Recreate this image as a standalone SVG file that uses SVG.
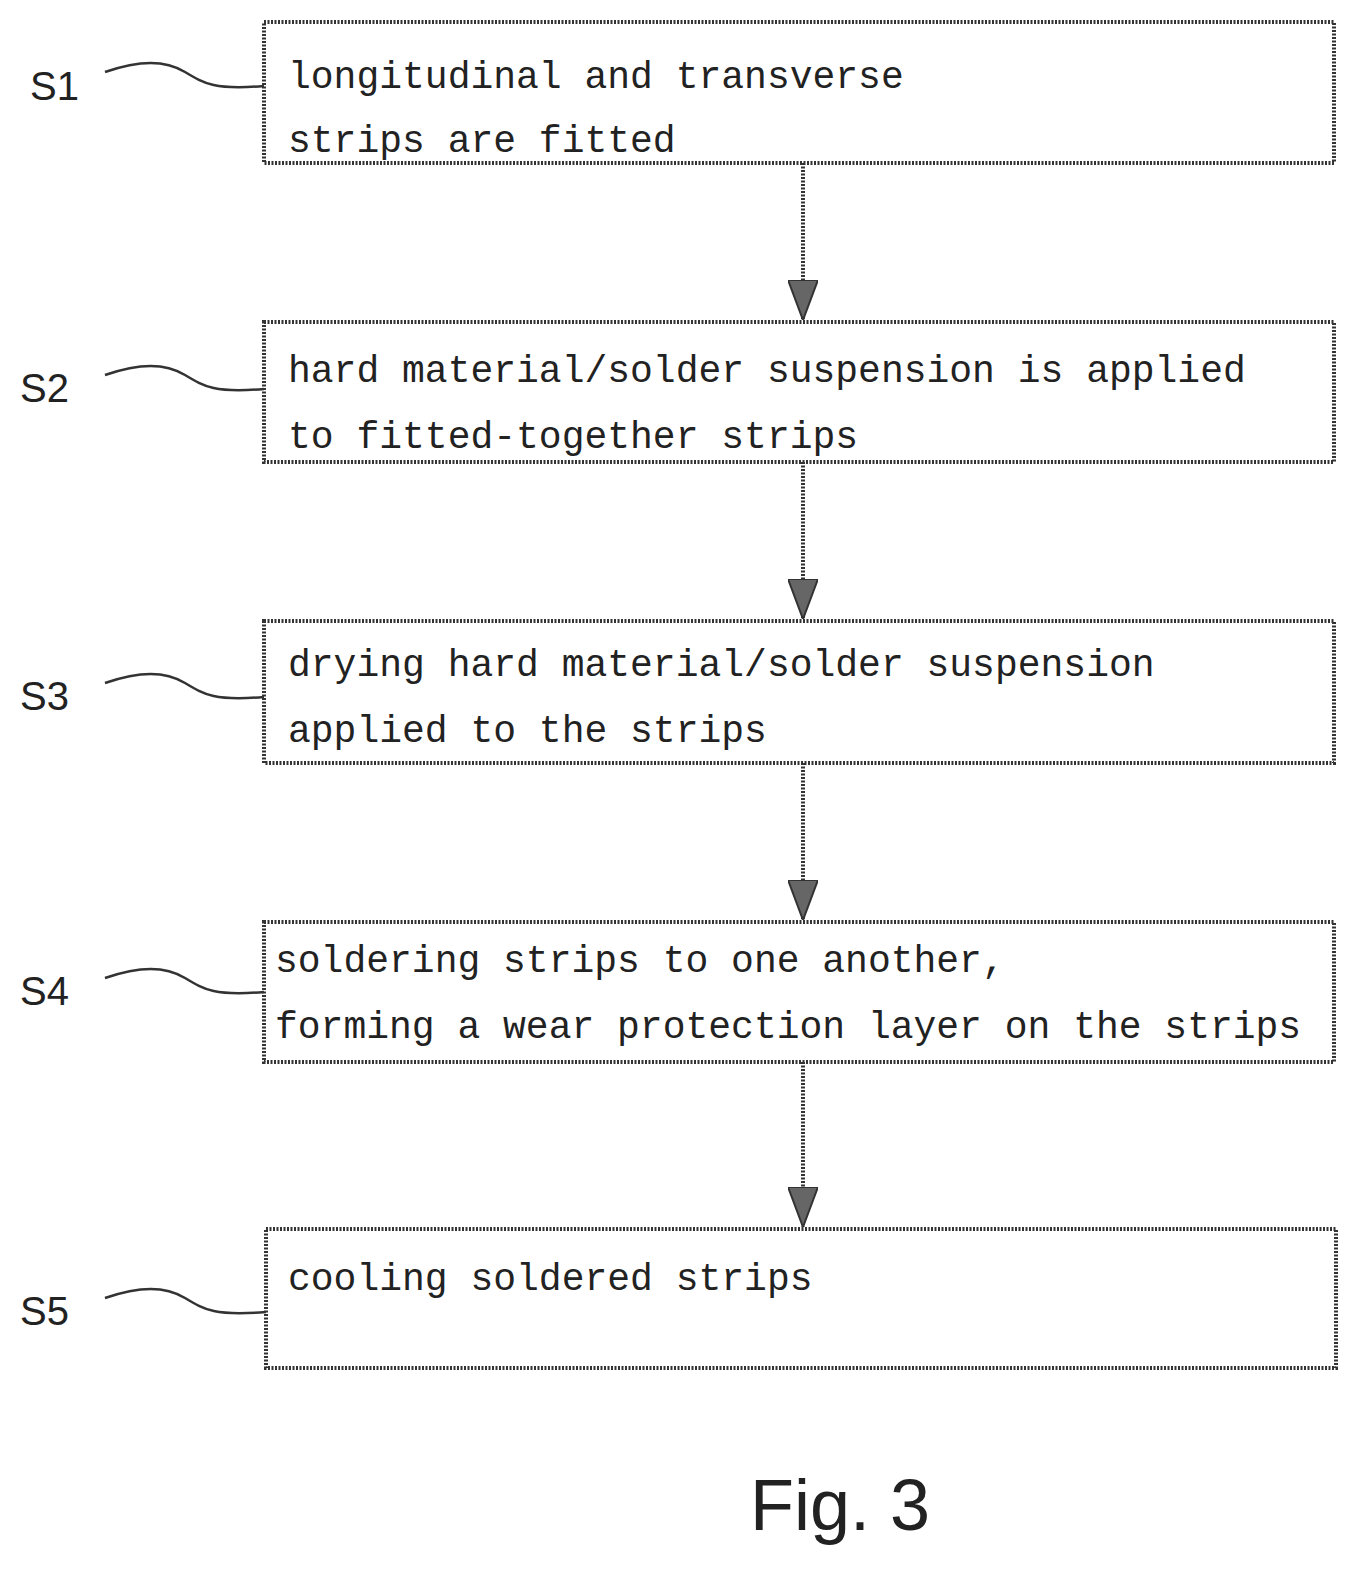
<svg xmlns="http://www.w3.org/2000/svg" width="1361" height="1572" viewBox="0 0 1361 1572">
<style>
.b{fill:#fff;stroke:#333;stroke-width:4;stroke-dasharray:2 1.5}
.t{font-family:"Liberation Mono",monospace;font-size:38px;fill:#222}
.l{font-family:"Liberation Sans",sans-serif;font-size:40px;fill:#222}
.c{fill:none;stroke:#333;stroke-width:4;stroke-dasharray:2 1.5}
.s{fill:none;stroke:#333;stroke-width:2.5}
</style>
<defs>
<marker id="ah" viewBox="0 0 40 30" refX="40" refY="15" markerWidth="40" markerHeight="30" markerUnits="userSpaceOnUse" orient="auto"><path d="M0,0 L40,15 L0,30 Z" fill="#666" stroke="#333" stroke-width="2"/></marker></defs>
<g id="connectors">
<line class="c" x1="803" y1="163" x2="803" y2="320" marker-end="url(#ah)"/>
<line class="c" x1="803" y1="462" x2="803" y2="619" marker-end="url(#ah)"/>
<line class="c" x1="803" y1="763" x2="803" y2="920" marker-end="url(#ah)"/>
<line class="c" x1="803" y1="1062" x2="803" y2="1227" marker-end="url(#ah)"/>
</g>
<g id="S1"><rect class="b" x="264" y="22" width="1070" height="141"/>
<text class="t" x="288" y="88">longitudinal and transverse</text><text class="t" x="288" y="152">strips are fitted</text>
<text class="l" x="30" y="100">S1</text><path class="s" d="M105,72 C140,60 165,60 185,72 S215,90 264,86"/></g>
<g id="S2"><rect class="b" x="264" y="322" width="1070" height="140"/>
<text class="t" x="288" y="382">hard material/solder suspension is applied</text><text class="t" x="288" y="448">to fitted-together strips</text>
<text class="l" x="20" y="402">S2</text><path class="s" d="M105,375 C140,363 165,363 185,375 S215,393 264,389"/></g>
<g id="S3"><rect class="b" x="264" y="621" width="1070" height="142"/>
<text class="t" x="288" y="676">drying hard material/solder suspension</text><text class="t" x="288" y="742">applied to the strips</text>
<text class="l" x="20" y="710">S3</text><path class="s" d="M105,683 C140,671 165,671 185,683 S215,701 264,697"/></g>
<g id="S4"><rect class="b" x="264" y="922" width="1070" height="140"/>
<text class="t" x="275" y="972">soldering strips to one another,</text><text class="t" x="275" y="1038">forming a wear protection layer on the strips</text>
<text class="l" x="20" y="1005">S4</text><path class="s" d="M105,978 C140,966 165,966 185,978 S215,996 264,992"/></g>
<g id="S5"><rect class="b" x="266" y="1229" width="1070" height="139"/>
<text class="t" x="288" y="1290">cooling soldered strips</text>
<text class="l" x="20" y="1325">S5</text><path class="s" d="M105,1298 C140,1286 165,1286 185,1298 S215,1316 266,1312"/></g>
<text x="840" y="1530" text-anchor="middle" font-family="Liberation Sans,sans-serif" font-size="72" fill="#222">Fig. 3</text>
</svg>
